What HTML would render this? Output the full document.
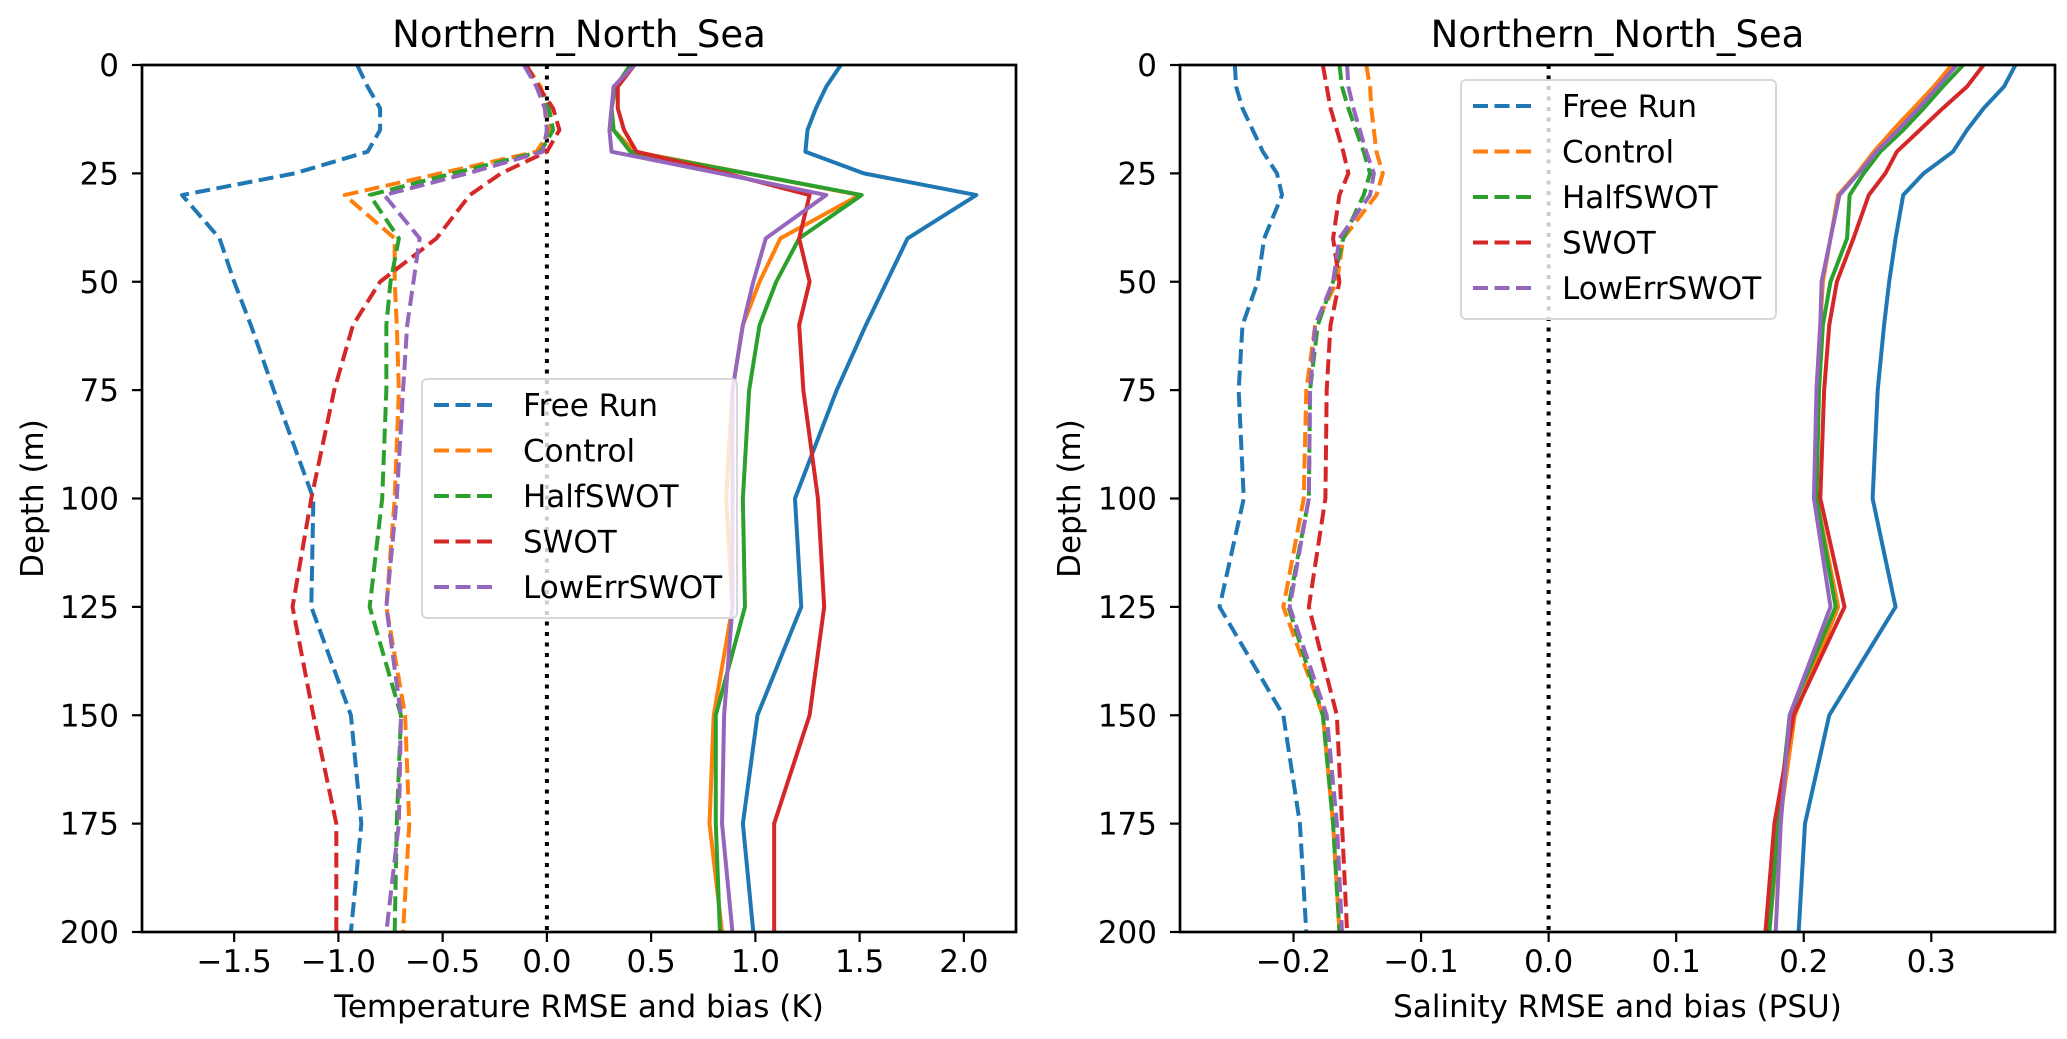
<!DOCTYPE html>
<html><head><meta charset="utf-8">
<style>
html,body{margin:0;padding:0;background:#fff;}
svg{display:block;font-family:"DejaVu Sans","Liberation Sans",sans-serif;}
</style></head>
<body>
<svg id="fig" width="2067" height="1039" viewBox="0 0 2067 1039" xmlns="http://www.w3.org/2000/svg"></svg>
<script>
const depths = [0,5,10,15,20,25,30,40,50,60,75,100,125,150,175,200];
const seriesNames = ["Free Run","Control","HalfSWOT","SWOT","LowErrSWOT"];
const colors = ["#1f77b4","#ff7f0e","#2ca02c","#d62728","#9467bd"];

const tempBiasFree = [-0.91,-0.86,-0.80,-0.80,-0.86,-1.21,-1.75,-1.57,-1.50,-1.42,-1.31,-1.12,-1.13,-0.94,-0.89,-0.94];
const tempBiasControl = [-0.10,-0.03,0.0,0.02,-0.05,-0.51,-0.97,-0.73,-0.73,-0.72,-0.71,-0.73,-0.77,-0.68,-0.66,-0.69];
const tempBiasHalf = [-0.10,-0.04,0.01,0.03,-0.03,-0.45,-0.85,-0.71,-0.75,-0.77,-0.77,-0.79,-0.85,-0.70,-0.72,-0.73];
const tempBiasSwot = [-0.10,-0.04,0.03,0.06,0.0,-0.22,-0.37,-0.53,-0.80,-0.93,-1.02,-1.13,-1.22,-1.12,-1.01,-1.01];
const tempBiasLowErr = [-0.11,-0.05,-0.01,0.0,-0.02,-0.38,-0.78,-0.61,-0.64,-0.67,-0.69,-0.72,-0.77,-0.70,-0.71,-0.77];
const tempRmseFree = [1.41,1.34,1.29,1.25,1.24,1.52,2.06,1.73,1.63,1.53,1.39,1.19,1.22,1.01,0.94,0.99];
const tempRmseControl = [0.42,0.33,0.31,0.32,0.42,0.96,1.50,1.12,1.02,0.94,0.89,0.86,0.89,0.80,0.78,0.84];
const tempRmseHalf = [0.40,0.33,0.31,0.32,0.40,0.96,1.51,1.21,1.10,1.02,0.97,0.94,0.95,0.81,0.81,0.83];
const tempRmseSwot = [0.42,0.34,0.34,0.37,0.43,0.86,1.26,1.21,1.26,1.21,1.23,1.30,1.33,1.26,1.09,1.09];
const tempRmseLowErr = [0.42,0.32,0.31,0.30,0.31,0.83,1.34,1.05,0.99,0.94,0.89,0.89,0.89,0.85,0.84,0.89];

const salBiasFree = [-0.246,-0.245,-0.240,-0.232,-0.224,-0.213,-0.209,-0.223,-0.228,-0.240,-0.243,-0.239,-0.258,-0.208,-0.195,-0.190];
const salBiasControl = [-0.143,-0.140,-0.139,-0.137,-0.135,-0.130,-0.135,-0.161,-0.166,-0.183,-0.190,-0.192,-0.208,-0.177,-0.169,-0.164];
const salBiasHalf = [-0.164,-0.162,-0.157,-0.151,-0.145,-0.140,-0.145,-0.161,-0.169,-0.181,-0.187,-0.188,-0.204,-0.177,-0.169,-0.164];
const salBiasSwot = [-0.177,-0.174,-0.171,-0.166,-0.161,-0.157,-0.164,-0.169,-0.164,-0.171,-0.174,-0.175,-0.188,-0.166,-0.162,-0.158];
const salBiasLowErr = [-0.158,-0.157,-0.153,-0.148,-0.143,-0.137,-0.140,-0.164,-0.169,-0.183,-0.187,-0.188,-0.203,-0.174,-0.166,-0.162];
const salRmseFree = [0.366,0.357,0.341,0.328,0.317,0.294,0.278,0.272,0.267,0.263,0.258,0.254,0.272,0.220,0.201,0.196];
const salRmseControl = [0.316,0.302,0.286,0.270,0.255,0.242,0.227,0.221,0.215,0.213,0.210,0.210,0.227,0.193,0.181,0.173];
const salRmseHalf = [0.325,0.309,0.294,0.278,0.260,0.247,0.236,0.234,0.221,0.215,0.212,0.210,0.225,0.189,0.180,0.173];
const salRmseSwot = [0.341,0.328,0.309,0.291,0.273,0.264,0.251,0.239,0.226,0.220,0.216,0.213,0.232,0.192,0.177,0.170];
const salRmseLowErr = [0.320,0.305,0.290,0.274,0.257,0.243,0.228,0.221,0.214,0.213,0.210,0.208,0.221,0.189,0.182,0.178];

const tempXTicks = [-1.5,-1.0,-0.5,0.0,0.5,1.0,1.5,2.0];
const salXTicks = [-0.2,-0.1,0.0,0.1,0.2,0.3];
const yTicks = [0,25,50,75,100,125,150,175,200];

const NS = "http://www.w3.org/2000/svg";
const svg = document.getElementById("fig");
function mk(tag, attrs, parent){const e=document.createElementNS(NS,tag);for(const k in attrs)e.setAttribute(k,attrs[k]);(parent||svg).appendChild(e);return e;}
const fmtMinus = s => s.replace("-","\u2212");
const FS = 31;

function panel(cfg){
  const g = mk("g",{});
  
  
  const L=cfg.left,R=cfg.right,T=65,B=932;
  const xs = v => L + (v-cfg.xmin)/(cfg.xmax-cfg.xmin)*(R-L);
  const ys = d => T + d/200*(B-T);
  const z = mk("line",{x1:xs(0),x2:xs(0),y1:T,y2:B,stroke:"#000","stroke-width":4,"stroke-dasharray":"4 6.5"},g);
  
  
  cfg.bias.forEach((arr,i)=>{
    const p = mk("polyline",{points:arr.map((v,j)=>xs(v)+","+ys(depths[j])).join(" "),fill:"none",stroke:colors[i],"stroke-width":4,"stroke-dasharray":"15 6.5","stroke-linejoin":"round"},g);
    
    
  });
  cfg.rmse.forEach((arr,i)=>{
    const p = mk("polyline",{points:arr.map((v,j)=>xs(v)+","+ys(depths[j])).join(" "),fill:"none",stroke:colors[i],"stroke-width":4,"stroke-linejoin":"round"},g);
    
    
  });
  const f = mk("rect",{x:L,y:T,width:R-L,height:B-T,fill:"none",stroke:"#000","stroke-width":2.7},g);
  
  
  cfg.xticks.forEach(t=>{
    mk("line",{x1:xs(t),x2:xs(t),y1:B,y2:B+10,stroke:"#000","stroke-width":2.2},g);
    const tx = mk("text",{x:xs(t),y:972,"font-size":FS,"text-anchor":"middle",fill:"#000"},g);
    tx.textContent = fmtMinus(t.toFixed(1));
    
    
  });
  yTicks.forEach(t=>{
    mk("line",{x1:L-10,x2:L,y1:ys(t),y2:ys(t),stroke:"#000","stroke-width":2.2},g);
    const tx = mk("text",{x:L-23,y:ys(t)+11,"font-size":FS,"text-anchor":"end",fill:"#000"},g);
    tx.textContent = String(t);
    
    
  });
  const title = mk("text",{x:(L+R)/2,y:47,"font-size":37,"text-anchor":"middle",fill:"#000"},g);
  title.textContent = "Northern_North_Sea";
  
  
  const xt = mk("text",{x:(L+R)/2,y:1017,"font-size":FS,"text-anchor":"middle",fill:"#000"},g);
  xt.textContent = cfg.xlabel;
  
  
  const yt = mk("text",{x:0,y:0,"font-size":FS,"text-anchor":"middle",fill:"#000",transform:`translate(${cfg.ylabelX},${(T+B)/2}) rotate(-90)`},g);
  yt.textContent = "Depth (m)";
  
  
  const lg = mk("g",{},g);
  
  
  mk("rect",{x:cfg.lx,y:cfg.ly,width:315,height:239,rx:5,fill:"#fff","fill-opacity":0.8,stroke:"#d8d8d8","stroke-width":2},lg);
  seriesNames.forEach((n,i)=>{
    const yy = cfg.ly+26+i*45.5;
    mk("line",{x1:cfg.lx+12,x2:cfg.lx+75,y1:yy,y2:yy,stroke:colors[i],"stroke-width":4,"stroke-dasharray":"15 6.5"},lg);
    const t = mk("text",{x:cfg.lx+101,y:yy+11,"font-size":FS,fill:"#000"},lg);
    t.textContent = n;
    
    
  });
}

panel({name:"temperature-panel",left:142,right:1016,xmin:-1.942,xmax:2.25,xticks:tempXTicks,
  xlabel:"Temperature RMSE and bias (K)",ylabelX:43,lx:422,ly:379,
  bias:[tempBiasFree,tempBiasControl,tempBiasHalf,tempBiasSwot,tempBiasLowErr],
  rmse:[tempRmseFree,tempRmseControl,tempRmseHalf,tempRmseSwot,tempRmseLowErr]});
panel({name:"salinity-panel",left:1180,right:2055,xmin:-0.289,xmax:0.397,xticks:salXTicks,
  xlabel:"Salinity RMSE and bias (PSU)",ylabelX:1080,lx:1461,ly:80,
  bias:[salBiasFree,salBiasControl,salBiasHalf,salBiasSwot,salBiasLowErr],
  rmse:[salRmseFree,salRmseControl,salRmseHalf,salRmseSwot,salRmseLowErr]});
</script>
</body></html>
